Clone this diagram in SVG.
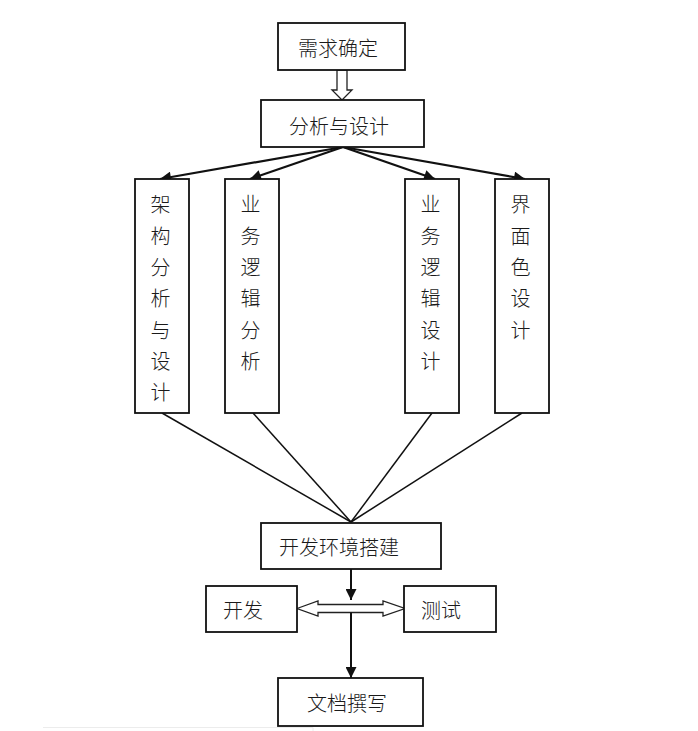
<svg xmlns="http://www.w3.org/2000/svg" width="698" height="731" viewBox="0 0 698 731">
<style>
.box{fill:#fff;stroke:#111;stroke-width:1.8}
.t{font-family:"Noto Sans CJK SC","Noto Sans CJK JP",sans-serif;font-size:20px;font-weight:300;fill:#1a1a1a;text-anchor:middle;dominant-baseline:central}
.ln{stroke:#111;stroke-width:1.5;fill:none}
.ar{stroke:#111;stroke-width:2.2;fill:none}
.hol{fill:#fff;stroke:#222;stroke-width:1.3}
</style>
<defs>
<marker id="ah" viewBox="0 0 10 10" refX="10" refY="5" markerWidth="12" markerHeight="11" markerUnits="userSpaceOnUse" orient="auto">
<path d="M0,0 L10,5 L0,10 z" fill="#111"/>
</marker>
<marker id="ah2" viewBox="0 0 10 10" refX="10" refY="5" markerWidth="12" markerHeight="11" markerUnits="userSpaceOnUse" orient="auto">
<path d="M0,0 L10,5 L0,10 z" fill="#111"/>
</marker>
</defs>
<rect width="698" height="731" fill="#fff"/>
<path d="M43,727.5 H313 V731" stroke="#ececec" stroke-width="1" fill="none"/>
<g id="connectors">
<path class="hol" d="M337,70 H347 V90 H352 L342,100 L332,90 H337 Z"/>
<line class="ar" x1="343" y1="147" x2="160" y2="179" marker-end="url(#ah)"/>
<line class="ar" x1="343" y1="147" x2="250" y2="179" marker-end="url(#ah)"/>
<line class="ar" x1="343" y1="147" x2="435" y2="179" marker-end="url(#ah)"/>
<line class="ar" x1="343" y1="147" x2="525" y2="179" marker-end="url(#ah)"/>
<line class="ln" x1="162" y1="413" x2="351" y2="522"/>
<line class="ln" x1="253" y1="413" x2="351" y2="522"/>
<line class="ln" x1="432" y1="413" x2="351" y2="522"/>
<line class="ln" x1="522" y1="413" x2="351" y2="522"/>
<line x1="351" y1="569" x2="351" y2="600" stroke="#111" stroke-width="2" marker-end="url(#ah2)"/>
<path class="hol" d="M297,608.5 L318,601 V604.5 H383 V601 L405,608.5 L383,616 V612.5 H318 V616 Z"/>
<line x1="351" y1="612.5" x2="351" y2="678" stroke="#111" stroke-width="2" marker-end="url(#ah2)"/>
</g>
<g id="n1"><rect class="box" x="278" y="23" width="127" height="47"/><text class="t" x="338" y="47">需求确定</text></g>
<g id="n2"><rect class="box" x="261" y="100" width="163" height="47"/><text class="t" x="339" y="125">分析与设计</text></g>
<g id="n3"><rect class="box" x="135" y="179" width="54" height="234"/>
<text class="t" x="160.5"><tspan x="160.5" y="203">架</tspan><tspan x="160.5" y="234.5">构</tspan><tspan x="160.5" y="266">分</tspan><tspan x="160.5" y="297">析</tspan><tspan x="160.5" y="328.5">与</tspan><tspan x="160.5" y="360">设</tspan><tspan x="160.5" y="391">计</tspan></text></g>
<g id="n4"><rect class="box" x="225" y="179" width="54" height="234"/>
<text class="t" x="250.5"><tspan x="250.5" y="203">业</tspan><tspan x="250.5" y="234.5">务</tspan><tspan x="250.5" y="266">逻</tspan><tspan x="250.5" y="297">辑</tspan><tspan x="250.5" y="328.5">分</tspan><tspan x="250.5" y="360">析</tspan></text></g>
<g id="n5"><rect class="box" x="405" y="179" width="54" height="234"/>
<text class="t" x="430.5"><tspan x="430.5" y="203">业</tspan><tspan x="430.5" y="234.5">务</tspan><tspan x="430.5" y="266">逻</tspan><tspan x="430.5" y="297">辑</tspan><tspan x="430.5" y="328.5">设</tspan><tspan x="430.5" y="360">计</tspan></text></g>
<g id="n6"><rect class="box" x="495" y="179" width="54" height="234"/>
<text class="t" x="520.5"><tspan x="520.5" y="203">界</tspan><tspan x="520.5" y="234.5">面</tspan><tspan x="520.5" y="266">色</tspan><tspan x="520.5" y="297">设</tspan><tspan x="520.5" y="328.5">计</tspan></text></g>
<g id="n7"><rect class="box" x="261" y="523" width="180" height="46"/><text class="t" x="339" y="546.5">开发环境搭建</text></g>
<g id="n8"><rect class="box" x="206" y="586" width="91" height="46"/><text class="t" x="243" y="609">开发</text></g>
<g id="n9"><rect class="box" x="404" y="586" width="92" height="46"/><text class="t" x="441" y="609">测试</text></g>
<g id="n10"><rect class="box" x="278" y="678" width="145" height="48"/><text class="t" x="347" y="702">文档撰写</text></g>
</svg>
